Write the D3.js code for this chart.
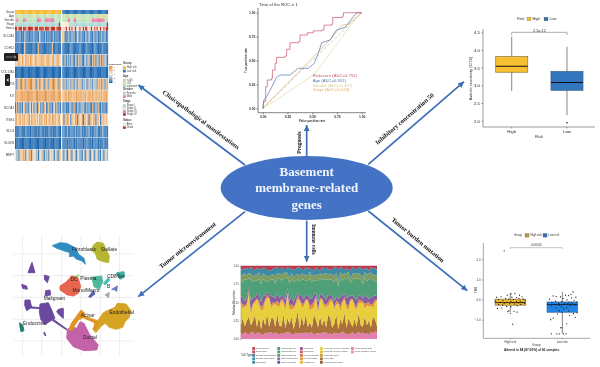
<!DOCTYPE html>
<html><head><meta charset="utf-8">
<script src="https://cdn.jsdelivr.net/npm/d3@7/dist/d3.min.js"></script>
<style>html,body{margin:0;padding:0;background:#fff}svg{display:block;font-family:"Liberation Sans",Arial,sans-serif}</style>
</head><body><svg id="c" width="600" height="367"></svg>
<script>
/* ---------- heatmap data (digit 0-9 = expression level), 40 High + 40 Low samples ---------- */
const heatGenes=["SLC2A1","CDH12","LAMC2","COL17A1","TP53","KIT","NCOA1","ITGB4","SDC4","NLGN3","MMP7"];
const heatRows=[
"2121312132121221312214212131212123121212"+"7612232132312421322132142213213122312312",
"1101110161011101110271101011101161011011"+"1101101211011102110112011101211011120111",
"6578658659674876587466787657786578467865"+"2161723162173162721361732162717326172631",
"0000100000000100000000010000000100000000"+"0100101010001010010001010010100010100100",
"7286827682687927682762867286827682876287"+"3262736273263263727362263726372636273263",
"8786878787988788778978878798787878877888"+"7687687876768787867686787687687676868786",
"1713171471317415173174131741271317417131"+"2131213312721321337213132172132721312213",
"7857857685769587685758785768578587685785"+"6176875176587176581675817658716751768575",
"1101221102112021101211210211021121102110"+"1211311212131211312112131211213112131121",
"0101010010111010101001010101001010110100"+"1112121112021211120212111202112021112021",
"5371646371563716453716537163715647153176"+"3153164316531642315316431653164231531643"
];
/* annotation tracks */
const trackNames=["Group","Age","Gender","Stage","Status"];
const trackAge=  "1111221111112111221111121111211111121111"+"1121111211112211112111121111121122111121";
const trackGen=  "1221111222111111111222211122222222111111"+"1111122111221111111111111122222222222111";
const trackStg=  "2222222222222222222222222222222222222242"+"3333332222222222222222222222222222222224";
const trackSta=  "1101110111011111011101111011110111101111"+"0001001010010001001011000100101001001011";
const expressionTicks=[4,2,0,-2,-4];
const legendAge=["<=65",">65","unknown"];
const legendGender=["Female","Male"];
const legendStage=["Stage I","Stage II","Stage III","Stage IV"];
const legendStatus=["Alive","Dead"];
const legendRisk=["High risk","Low risk"];

/* ---------- ROC curves ---------- */
const rocNames=["Riskscore (AUC=0.752)","Age (AUC=0.551)","Gender (AUC=0.427)","Stage (AUC=0.528)"];
const rocRisk=[[0,0],[.007,.07],[.03,.226],[.047,.296],[.09,.314],[.098,.40],[.125,.47],[.14,.533],[.226,.547],[.242,.617],[.276,.686],[.36,.697],[.377,.767],[.45,.79],[.51,.81],[.596,.82],[.62,.87],[.697,.88],[.707,.95],[.808,.965],[.815,1],[1,1]];
const rocAge=[[0,0],[.013,.087],[.04,.122],[.09,.22],[.14,.324],[.175,.348],[.276,.348],[.36,.418],[.46,.418],[.52,.47],[.562,.575],[.596,.686],[.68,.714],[.747,.82],[.832,.847],[.916,.958],[.95,1],[1,1]];
const rocGender=[[0,0],[.2,.13],[.36,.245],[.51,.348],[.6,.46],[.68,.575],[.77,.7],[.85,.82],[.93,.92],[1,1]];
const rocStage=[[0,0],[.2,.21],[.4,.42],[.58,.61],[.7,.74],[.8,.87],[.865,.88],[.93,.94],[1,1]];
const rocTicks=[0,.25,.5,.75,1];

/* ---------- Axitinib boxplot ---------- */
const icGroups=["High","Low"];
const icHigh={lo:2.84,q1:3.37,med:3.54,q3:3.82,hi:4.38,out:[]};
const icLow={lo:2.16,q1:2.86,med:3.08,q3:3.39,hi:4.09,out:[1.94]};
const icTicks=[2,2.5,3,3.5,4,4.5];

/* ---------- TMB boxplot ---------- */
const tmbGroups=["High risk","Low risk"];
const tmbHigh={lo:-.62,q1:-.28,med:-.15,q3:.02,hi:.34};
const tmbLow={lo:-1.7,q1:-.63,med:-.25,q3:-.12,hi:.38};
const tmbHighPts=[[-.2,2.42],[.15,.3],[.02,.28],[-.1,.22],[.3,.22],[.38,.14],[-.3,.14],[.05,.12],[.2,.1],[-.45,.12],[-.15,.06],[.28,.05],[.42,.02],[-.38,.0],[-.05,.02],[.1,0],[.48,-.04],[-.24,-.05],[.32,-.08],[.02,-.08],[-.48,-.08],[.2,-.1],[-.12,-.12],[.4,-.14],[-.32,-.14],[.08,-.15],[.26,-.17],[-.2,-.18],[.46,-.2],[-.02,-.2],[.14,-.22],[-.38,-.24],[.34,-.24],[-.25,-.28],[.22,-.3],[-.12,-.34],[.02,-.36],[-.42,-.44],[-.28,-.42],[-.05,-.55],[.22,-.62],[-.08,-.6],[.0,-.68],[.12,-.58],[.08,-1.22]];
const tmbLowPts=[[.35,.38],[.28,.25],[-.3,.18],[.1,.22],[.2,.2],[-.2,.15],[.44,.12],[-.06,.13],[.3,.08],[.02,.05],[-.42,.02],[.15,-.02],[.38,-.05],[-.22,-.08],[-.02,-.1],[.22,-.12],[.46,-.12],[-.34,-.14],[.08,-.16],[-.12,-.18],[.32,-.18],[.18,-.2],[-.48,-.22],[-.24,-.24],[.04,-.24],[.4,-.26],[-.1,-.28],[.26,-.3],[-.36,-.32],[-.04,-.35],[.14,-.4],[-.2,-.42],[.04,-.46],[-.1,-.55],[.2,-.58],[-.02,-.62],[.48,-.66],[.36,-.7],[-.16,-.72],[.24,-.78],[-.3,-.92],[.42,-.88],[-.38,-1],[.14,-1.2],[-.06,-1.4],[-.02,-1.4],[-.36,-1.7],[-.18,-1.7],[-.1,-1.7],[.04,-1.7],[.12,-1.7]];
const tmbTicks=[-1,0,1,2];

/* ---------- immune cell proportions (bottom band first) ---------- */
const cellPink=[8,7,9,8,6,9,10,7,8,9,7,6,8,9,8,10,7,9,8,6,8,7,9,10,8,7,6,9,8,7,9,8,10,7,8,9,6,8,7,9,8,10,9,7,8,6,9,8,7,8,10,9,7,6,8,9,7,8,10,8,9,7,8,6,9,8,10,9];
const cellBrown=[10,24,8,18,28,9,14,30,8,22,7,26,10,28,8,20,24,7,30,12,9,28,6,22,10,26,8,16,30,7,24,11,28,9,14,6,30,20,8,26,10,18,7,28,22,9,12,28,6,20,10,30,8,24,16,7,22,9,28,12,8,26,10,20,6,24,16,9];
const cellYellow=[30,14,26,20,34,12,24,18,36,16,28,10,32,22,38,14,20,30,12,26,34,16,24,36,18,10,30,22,16,38,12,28,20,34,14,26,10,32,18,24,36,16,30,12,22,38,20,14,34,10,28,18,26,12,32,36,16,24,14,30,34,10,26,20,28,12,22,36];
const cellOrange=[3,6,2,5,4,7,1,3,2,6,4,8,2,5,1,6,3,2,7,4,3,5,6,1,4,8,2,3,6,1,5,4,2,3,7,5,8,2,4,3,1,6,2,7,5,1,3,6,2,8,3,5,4,7,2,1,6,3,5,4,2,8,3,5,2,6,4,1];
const cellPurple=[6,11,5,9,4,13,8,6,5,10,7,14,6,4,5,12,9,6,11,8,5,4,10,7,6,13,5,9,4,5,11,7,6,5,9,8,12,4,10,6,5,9,7,11,4,5,8,6,4,13,7,5,9,12,6,5,8,10,7,6,4,12,8,5,9,10,6,5];
const cellGreen=[20,22,30,24,16,28,22,25,18,21,27,24,20,15,18,24,25,20,22,28,19,26,30,16,22,25,29,22,18,20,24,28,21,19,27,22,20,18,28,24,20,25,29,21,23,22,27,26,18,27,20,22,25,28,18,21,28,29,23,22,20,26,21,27,25,23,19,22];
const cellSage=[8,10,8,6,8,8,7,9,8,9,8,8,8,7,7,7,8,9,8,7,8,8,8,7,7,8,8,8,8,7,8,8,8,8,8,8,8,8,8,7,8,8,8,8,8,8,8,8,8,8,8,8,8,8,7,8,8,8,8,8,8,8,8,8,8,8,8,8];
const cellTeal=[9,8,7,10,6,8,11,7,9,5,12,8,9,10,7,6,8,12,9,5,10,7,4,9,12,6,10,8,9,11,7,5,13,8,5,9,6,11,7,4,10,6,8,9,5,7,12,8,14,6,9,5,7,4,11,9,7,5,8,10,12,5,9,4,7,8,10,6];
const cellRed=[4,6,3,4,5,2,4,7,3,4,6,3,3,6,6,7,4,3,2,5,2,4,5,2,3,4,6,5,2,3,4,7,2,4,3,5,7,3,4,8,2,5,3,4,6,5,2,3,5,2,3,6,3,5,7,2,4,5,3,2,6,4,3,7,2,4,3,6];
const cellTicks=[0,.25,.5,.75,1];
const cellLegend=[
 [["B cells memory","#c23b4b"],["B cells naive","#b5475f"],["Dendritic cells activated","#4a7fa8"],["Dendritic cells resting","#3b8fb0"],["Eosinophils","#3a8a98"]],
 [["Macrophages M0","#3f9a78"],["Macrophages M1","#4aa46c"],["Macrophages M2","#5aa060"],["Mast cells activated","#6f7f8f"],["Mast cells resting","#7c4f9c"]],
 [["Monocytes","#a0558f"],["Neutrophils","#c0606a"],["NK cells activated","#d4783c"],["NK cells resting","#e6913a"],["Plasma cells","#efb233"]],
 [["T cells CD4 memory activated","#e8d23e"],["T cells CD4 memory resting","#d8c030"],["T cells CD4 naive","#c4a030"],["T cells CD8","#a8703a"],["T cells follicular helper","#9a5c38"]],
 [["T cells gamma delta","#e87fae"],["T cells regulatory (Tregs)","#e58cb8"]]
];

/* ---------- single-cell map: cluster outlines in map units ---------- */
const umapFibro=[[127,47],[150,38],[170,40],[190,50],[200,58],[205,72],[222,85],[226,103],[215,92],[200,88],[190,78],[178,80],[180,68],[160,62],[150,58],[140,55]];
const umapStellate=[[250,45],[262,36],[280,40],[288,58],[298,78],[296,98],[280,95],[262,88],[256,70],[245,62]];
const umapMalig=[
 [[66,97],[75,128],[54,128],[60,112]],
 [[103,135],[118,140],[112,158],[104,150]],
 [[35,163],[50,168],[52,178],[38,175]],
 [[107,182],[120,180],[122,195],[105,198]],
 [[45,210],[60,210],[65,232],[50,242],[44,225]],
 [[90,222],[115,218],[125,240],[135,265],[118,275],[105,285],[92,268],[88,245]],
 [[145,238],[160,235],[160,265],[148,255],[140,245]],
 [[60,230],[90,233],[90,236],[60,234]],
 [[130,268],[172,298],[170,300],[128,272]],
 [[103,306],[108,316],[105,317],[101,308]]
];
const umapEndo=[[29,278],[38,285],[42,302],[33,305],[30,292]];
const umapDC=[[160,165],[180,145],[208,134],[195,150],[172,168]];
const umapMono=[[150,168],[170,155],[185,137],[205,145],[212,170],[205,190],[190,198],[172,195],[150,180]];
const umapPlasma=[[245,142],[275,138],[278,155],[268,178],[252,170]];
const umapCD8a=[[280,160],[295,143],[300,150],[285,165]];
const umapCD8b=[[320,128],[342,125],[344,140],[330,148],[322,138]];
const umapB1=[[236,200],[250,182],[255,192],[240,203]];
const umapB2=[[305,178],[322,168],[320,185],[316,180]];
const umapB3=[[285,195],[298,187],[296,203]];
const umapAcinar=[[213,240],[225,250],[222,262],[205,270],[195,285],[188,300],[176,300],[185,278],[200,258]];
const umapAcinarLink=[[222,258],[262,272],[256,300],[252,298],[254,278],[222,264]];
const umapEndoth=[[322,220],[348,222],[362,240],[358,262],[345,275],[338,292],[318,298],[298,292],[285,280],[272,290],[258,308],[248,298],[270,262],[280,248],[296,240],[315,232]];
const umapDuctal=[[172,298],[186,290],[200,295],[210,275],[222,280],[238,312],[252,330],[265,345],[260,360],[222,362],[190,350],[170,325]];
const umapGridX=[38,95,155,213,271,329], umapGridY=[72,137,202,268,333];
const umapLabels=[["Fibroblasts",222,60],["Stellate",297,60],["DC",192,149],["Plasma",235,146],["CD8Tex",317,141],["Mono/Macro",228,183],["B",296,171],["Malignant",133,207],["Endocrine",72,280],["Acinar",233,256],["Endothelial",335,249],["Ductal",240,322]];

/* ---------- central diagram text ---------- */
const centerLines=["Basement","membrane-related","genes"];

const svg=d3.select("#c");
const SERIF='"Liberation Serif","Times New Roman",serif';
const arrowBlue="#3d6eb8";
const defs=svg.append("defs");
defs.append("filter").attr("id","soft").attr("x","-5%").attr("y","-5%").attr("width","110%").attr("height","110%").append("feGaussianBlur").attr("stdDeviation",.3);

/* ===== heatmap ===== */
(function(){
 const g=svg.append("g").attr("filter","url(#soft)");
 const n=heatRows[0].length/2;
 const xHi=d3.scaleBand().domain(d3.range(n)).range([15,61]);
 const xLo=d3.scaleBand().domain(d3.range(n,2*n)).range([62.3,108]);
 const xOf=i=>i<n?xHi(i):xLo(i), wOf=i=>(i<n?xHi:xLo).bandwidth()+.15;
 const color=d3.scaleLinear().domain([0,1.5,4.5,6,9]).range(["#1f69b1","#4a86bf","#f4ede2","#f2c89a","#e58f3c"]);
 const yT=d3.scaleBand().domain(trackNames).range([10,30.7]).paddingInner(.04);
 const yH=d3.scaleBand().domain(heatGenes).range([31,161]).paddingInner(.04);
 const palAge={1:"#bfe0bc",2:"#f0e484"};
 const palGen={1:"#bfe0b8",2:"#e982ac"};
 const palStg={2:"#a9dcd6",3:"#fbeecb",4:"#b8283c"};
 const palSta={0:"#f4d6cc",1:"#bf3328"};
 const trk={Age:[trackAge,palAge],Gender:[trackGen,palGen],Stage:[trackStg,palStg],Status:[trackSta,palSta]};
 d3.range(2*n).forEach(i=>{
   g.append("rect").attr("x",xOf(i)).attr("y",yT("Group")).attr("width",wOf(i)).attr("height",yT.bandwidth()).attr("fill",i<n?"#f4bb32":"#2c72b5");
   Object.keys(trk).forEach(k=>{
     g.append("rect").attr("x",xOf(i)).attr("y",yT(k)).attr("width",wOf(i)).attr("height",yT.bandwidth()).attr("fill",trk[k][1][trk[k][0][i]]);
   });
   heatRows.forEach((r,ri)=>{
     g.append("rect").attr("x",xOf(i)).attr("y",yH(heatGenes[ri])).attr("width",wOf(i)).attr("height",yH.bandwidth()).attr("fill",color(+r[i]));
   });
 });
 const lab=(t,x,y,o={})=>g.append("text").attr("x",x).attr("y",y).attr("font-size",o.s||3).attr("fill",o.c||"#444").attr("font-weight",o.b?"bold":null).attr("text-anchor",o.a||"start").attr("dominant-baseline","middle").text(t);
 trackNames.forEach(t=>lab(t,14.3,yT(t)+yT.bandwidth()/2,{a:"end"}));
 heatGenes.forEach(t=>lab(t,14.3,yH(t)+yH.bandwidth()/2,{a:"end"}));
 // viewer widgets present in the reference
 g.append("rect").attr("x",4).attr("y",53).attr("width",14).attr("height",8).attr("rx",1).attr("fill","#222");
 g.append("rect").attr("x",5).attr("y",74).attr("width",5).attr("height",12).attr("rx",1).attr("fill","#222");
 g.append("path").attr("d","M6 57H16M14 55.5L16 57L14 58.5").attr("stroke","#ccc").attr("stroke-width",.5).attr("fill","none");
 g.append("path").attr("d","M8.5 78L6.5 80L8.5 82Z").attr("fill","#eee");
 // legends
 const lg=defs.append("linearGradient").attr("id","exprGrad").attr("x1",0).attr("x2",0).attr("y1",0).attr("y2",1);
 [[0,"#e58f3c"],[.5,"#f4ede2"],[1,"#1f69b1"]].forEach(s=>lg.append("stop").attr("offset",s[0]).attr("stop-color",s[1]));
 g.append("rect").attr("x",109).attr("y",66).attr("width",3.5).attr("height",17).attr("fill","url(#exprGrad)");
 lab("Expression",109,64,{b:1,s:2.3});
 const eY=d3.scaleLinear().domain([4,-4]).range([67,82]);
 expressionTicks.forEach(t=>lab(t,113.2,eY(t),{s:2.4}));
 const block=(title,y,names,cols)=>{
   lab(title,123,y,{b:1,s:2.8});
   names.forEach((n,i)=>{const yy=y+3+i*2.9*(names.length>2?1:1.15);
     g.append("rect").attr("x",123).attr("y",yy).attr("width",2.8).attr("height",2.6).attr("fill",cols[i]).attr("stroke","#999").attr("stroke-width",.2);
     lab(n,126.7,yy+1.3,{s:2.6});});
 };
 block("Group",63.5,legendRisk,["#f4bb32","#2c72b5"]);
 block("Age",76,legendAge,["#bfe0bc","#f0e484","#a9dcd6"]);
 block("Gender",89,legendGender,["#bfe0b8","#e982ac"]);
 block("Stage",101.5,legendStage,["#a9dcd6","#fbeecb","#e982ac","#b8283c"]);
 block("Status",120,legendStatus,["#f8f2ea","#bf3328"]);
})();

/* ===== ROC ===== */
(function(){
 const g=svg.append("g").attr("filter","url(#soft)");
 const x=d3.scaleLinear().domain([0,1]).range([262.7,361.7]);
 const y=d3.scaleLinear().domain([0,1]).range([108.3,12.7]);
 const axB=g.append("g").attr("transform","translate(0,112.7)").call(d3.axisBottom(x).tickValues(rocTicks).tickFormat(d3.format(".2f")).tickSize(1.5).tickPadding(1));
 const axL=g.append("g").attr("transform","translate(258,0)").call(d3.axisLeft(y).tickValues(rocTicks).tickFormat(d3.format(".2f")).tickSize(1.5).tickPadding(1));
 [axB,axL].forEach(a=>{a.selectAll("text").attr("font-size",3.4).attr("font-weight","bold").attr("fill","#333");a.selectAll("line,path").attr("stroke","#333").attr("stroke-width",.6);});
 axB.select("path").attr("d","M258,0H366");axL.select("path").attr("d","M0,8V112.7");
 g.append("line").attr("x1",x(0)).attr("y1",y(0)).attr("x2",x(1)).attr("y2",y(1)).attr("stroke","#aaa").attr("stroke-width",.6).attr("stroke-dasharray","3,2");
 const step=d3.line().x(d=>x(d[0])).y(d=>y(d[1])).curve(d3.curveStepAfter);
 const lin=d3.line().x(d=>x(d[0])).y(d=>y(d[1]));
 const cols=["#c8536a","#4f74ad","#dedca8","#e9b26a"];
 g.append("path").attr("d",lin(rocGender)).attr("fill","none").attr("stroke",cols[2]).attr("stroke-width",.7);
 g.append("path").attr("d",lin(rocStage)).attr("fill","none").attr("stroke",cols[3]).attr("stroke-width",.7);
 g.append("path").attr("d",lin(rocAge)).attr("fill","none").attr("stroke",cols[1]).attr("stroke-width",.7);
 g.append("path").attr("d",step(rocRisk)).attr("fill","none").attr("stroke",cols[0]).attr("stroke-width",.7);
 rocNames.forEach((t,i)=>g.append("text").attr("x",312.7).attr("y",77+i*4.8).attr("font-size",4.2).attr("fill",cols[i]==="#dedca8"?"#cfcd92":cols[i]).text(t));
 g.append("text").attr("x",259).attr("y",6).attr("font-size",4.2).attr("fill","#333").text("Time of the ROC is  1");
 g.append("text").attr("x",312).attr("y",121.5).attr("font-size",3).attr("text-anchor","middle").attr("font-weight","bold").attr("fill","#333").text("False positive rate");
 g.append("text").attr("transform","translate(247,60.5) rotate(-90)").attr("font-size",3).attr("text-anchor","middle").attr("font-weight","bold").attr("fill","#333").text("True positive rate");
})();

/* ===== shared boxplot ===== */
function box(g,x,y,s,cat,fill,stroke,medW){
 const x0=x(cat),w=x.bandwidth(),c=x0+w/2;
 g.append("line").attr("x1",c).attr("x2",c).attr("y1",y(s.lo)).attr("y2",y(s.hi)).attr("stroke","#777").attr("stroke-width",.9);
 g.append("rect").attr("x",x0).attr("width",w).attr("y",y(s.q3)).attr("height",y(s.q1)-y(s.q3)).attr("fill",fill).attr("stroke",stroke).attr("stroke-width",.7);
 g.append("line").attr("x1",x0).attr("x2",x0+w).attr("y1",y(s.med)).attr("y2",y(s.med)).attr("stroke","#111").attr("stroke-width",medW);
}
function legendTop(g,lx,ly,title,names,cols,step,fs){
 g.append("text").attr("x",lx).attr("y",ly).attr("font-size",fs).attr("dominant-baseline","middle").attr("fill","#333").text(title);
 names.forEach((n,i)=>{const xx=lx+step[0]+i*step[1];
  g.append("rect").attr("x",xx).attr("y",ly-1.8).attr("width",4).attr("height",3.6).attr("fill",cols[i]).attr("stroke","#666").attr("stroke-width",.3);
  g.append("text").attr("x",xx+5.5).attr("y",ly).attr("font-size",fs).attr("dominant-baseline","middle").attr("fill","#333").text(n);});
}

/* ===== IC50 box ===== */
(function(){
 const g=svg.append("g").attr("filter","url(#soft)");
 const y=d3.scaleLinear().domain([2,4.5]).range([120.7,32.3]);
 const x=d3.scaleBand().domain(icGroups).range([495.7,583]).paddingInner(.42);
 const axL=g.append("g").attr("transform","translate(483,0)").call(d3.axisLeft(y).tickValues(icTicks).tickFormat(d3.format(".1f")).tickSize(1.5).tickPadding(1.5));
 const axB=g.append("g").attr("transform","translate(0,127)").call(d3.axisBottom(x).tickSize(1.5).tickPadding(1.5));
 [axL,axB].forEach(a=>{a.selectAll("text").attr("font-size",4.3).attr("fill","#222");a.selectAll("line,path").attr("stroke","#555").attr("stroke-width",.6);});
 axL.select("path").attr("d","M0,29V127");axB.select("path").attr("d","M483,0H595");
 box(g,x,y,icHigh,"High","#f7bf33","#8b7a45",1);
 box(g,x,y,icLow,"Low","#3377bd","#3c5e80",1);
 g.selectAll(".o").data(icLow.out).enter().append("circle").attr("cx",x("Low")+x.bandwidth()/2).attr("cy",d=>y(d)).attr("r",.8).attr("fill","#111");
 const cx=c=>x(c)+x.bandwidth()/2;
 g.append("path").attr("d",`M${cx("High")} 35V32.3H${cx("Low")}V35`).attr("fill","none").attr("stroke","#777").attr("stroke-width",.6);
 g.append("text").attr("x",(cx("High")+cx("Low"))/2).attr("y",31.5).attr("font-size",3.8).attr("text-anchor","middle").attr("fill","#333").text("2.1e-12");
 g.append("text").attr("x",539).attr("y",138).attr("font-size",4.2).attr("text-anchor","middle").attr("fill","#333").text("Risk");
 g.append("text").attr("transform","translate(472,78.5) rotate(-90)").attr("font-size",4).attr("text-anchor","middle").attr("fill","#333").text("Axitinib sensitivity (IC50)");
 legendTop(g,517,19,"Risk",["High","Low"],["#f7bf33","#2f6fb0"],[10,17],3.8);
})();

/* ===== TMB box ===== */
(function(){
 const g=svg.append("g").attr("filter","url(#soft)");
 const y=d3.scaleLinear().domain([-1,2]).range([319.7,259.3]);
 const x=d3.scaleBand().domain(tmbGroups).range([495,577.7]).paddingInner(.41);
 const axL=g.append("g").attr("transform","translate(483.3,0)").call(d3.axisLeft(y).tickValues(tmbTicks).tickSize(1.2).tickPadding(1.5));
 const axB=g.append("g").attr("transform","translate(0,338.3)").call(d3.axisBottom(x).tickSize(1.2).tickPadding(1.2));
 [axL,axB].forEach(a=>{a.selectAll("text").attr("font-size",3).attr("fill","#333");a.selectAll("line,path").attr("stroke","#666").attr("stroke-width",.6);});
 axL.select("path").attr("d","M0,243V338.3");axB.select("path").attr("d","M483.3,0H590");
 box(g,x,y,tmbHigh,"High risk","#f3b92f","#8b7a45",.8);
 box(g,x,y,tmbLow,"Low risk","#2184e4","#3c6ea0",.8);
 const pts=(arr,c)=>g.selectAll(null).data(arr).enter().append("circle").attr("cx",d=>x(c)+x.bandwidth()/2+d[0]*x.bandwidth()).attr("cy",d=>y(d[1])).attr("r",.6).attr("fill","#111");
 pts(tmbHighPts,"High risk");pts(tmbLowPts,"Low risk");
 const cx=c=>x(c)+x.bandwidth()/2;
 g.append("path").attr("d",`M${cx("High risk")} 249V247.7H${cx("Low risk")}V249`).attr("fill","none").attr("stroke","#888").attr("stroke-width",.5);
 g.append("text").attr("x",(cx("High risk")+cx("Low risk"))/2).attr("y",246.2).attr("font-size",3).attr("text-anchor","middle").attr("fill","#333").text("0.00012");
 g.append("text").attr("x",536.5).attr("y",346).attr("font-size",3).attr("text-anchor","middle").attr("fill","#333").text("Group");
 g.append("text").attr("transform","translate(477,290) rotate(-90)").attr("font-size",3).attr("text-anchor","middle").attr("fill","#333").text("TMB");
 g.append("text").attr("x",532).attr("y",350.8).attr("font-size",3.2).attr("font-weight","bold").attr("text-anchor","middle").attr("fill","#222").text("Altered in 84 (87.50%) of 96 samples.");
 legendTop(g,514,235.3,"Group",["High risk","Low risk"],["#b99a40","#2f6fb0"],[11,18],2.9);
})();

/* ===== stacked immune chart ===== */
(function(){
 const g=svg.append("g").attr("filter","url(#soft)");
 const bands=[cellPink,cellBrown,cellYellow,cellOrange,cellPurple,cellGreen,cellSage,cellTeal,cellRed];
 const cols=["#e27fae","#a96f3a","#e6cf3a","#e3903c","#8b5a9e","#4fa078","#7f9c62","#3c8aa6","#b83a4c"];
 const n=d3.min(bands,b=>b.length);
 const rows=d3.range(n).map(i=>Object.fromEntries(bands.map((b,k)=>[k,b[i]])));
 const stack=d3.stack().keys(bands.map((_,k)=>k)).offset(d3.stackOffsetExpand)(rows);
 const x=d3.scaleLinear().domain([0,n-1]).range([240.7,377]);
 const y=d3.scaleLinear().domain([0,1]).range([339,265.7]);
 const area=d3.area().x((d,i)=>x(i)).y0(d=>y(d[0])).y1(d=>y(d[1]));
 g.selectAll(null).data(stack).enter().append("path").attr("d",area).attr("fill",(d,i)=>cols[i]);
 const axL=g.append("g").attr("transform","translate(240.7,0)").call(d3.axisLeft(y).tickValues(cellTicks).tickFormat(d3.format(".2f")).tickSize(1).tickPadding(1));
 axL.selectAll("text").attr("font-size",2.6).attr("fill","#444");axL.selectAll("line,path").attr("stroke","#888").attr("stroke-width",.4);
 g.append("text").attr("transform","translate(234.5,302.5) rotate(-90)").attr("font-size",3).attr("text-anchor","middle").attr("fill","#333").text("Relative Proportion");
 g.append("text").attr("x",241).attr("y",355.5).attr("font-size",2.8).attr("fill","#333").attr("dominant-baseline","middle").text("Cell Type");
 const colX=[252.3,277.3,300,320,351];
 cellLegend.forEach((col,ci)=>col.forEach((e,ri)=>{
   const yy=348.5+ri*3.45;
   g.append("rect").attr("x",colX[ci]).attr("y",yy-1.4).attr("width",2.8).attr("height",2.8).attr("fill",e[1]);
   g.append("text").attr("x",colX[ci]+3.6).attr("y",yy).attr("font-size",1.95).attr("fill","#444").attr("dominant-baseline","middle").text(e[0]);
 }));
})();

/* ===== UMAP ===== */
(function(){
 const g=svg.append("g").attr("filter","url(#soft)");
 const x=d3.scaleLinear().domain([0,450]).range([10,160]);
 const y=d3.scaleLinear().domain([0,390]).range([230,360]);
 umapGridX.forEach(v=>g.append("line").attr("x1",x(v)).attr("x2",x(v)).attr("y1",y(15)).attr("y2",y(378)).attr("stroke","#e6e6e6").attr("stroke-width",.7));
 umapGridY.forEach(v=>g.append("line").attr("y1",y(v)).attr("y2",y(v)).attr("x1",x(10)).attr("x2",x(372)).attr("stroke","#e6e6e6").attr("stroke-width",.7));
 const outline=d3.line().x(d=>x(d[0])).y(d=>y(d[1])).curve(d3.curveLinearClosed);
 const draw=(arr,c)=>g.append("path").attr("d",outline(arr)).attr("fill",c).attr("stroke",c).attr("stroke-width",.9).attr("stroke-linejoin","round");
 draw(umapFibro,"#2f8cc0");draw(umapStellate,"#b4b632");umapMalig.forEach(p=>draw(p,"#6b4a9e"));draw(umapEndo,"#1f7d70");
 draw(umapDC,"#92d068");draw(umapMono,"#e8654f");draw(umapPlasma,"#4eb89a");draw(umapCD8a,"#47bfb8");draw(umapCD8b,"#3fae9c");
 draw(umapB1,"#5560b4");draw(umapB2,"#6a76c4");draw(umapB3,"#a9a9a0");
 draw(umapEndoth,"#d6a324");draw(umapAcinarLink,"#dd9422");draw(umapDuctal,"#c462a8");draw(umapAcinar,"#dd9422");
 umapLabels.forEach(l=>g.append("text").attr("x",x(l[1])).attr("y",y(l[2])).attr("font-size",4.9).attr("text-anchor","middle").attr("dominant-baseline","middle").attr("fill","#222").text(l[0]));
})();

/* ===== central diagram ===== */
(function(){
 const g=svg.append("g");
 defs.append("marker").attr("id","ah").attr("markerUnits","userSpaceOnUse").attr("markerWidth",7).attr("markerHeight",7).attr("refX",6).attr("refY",3).attr("orient","auto")
  .append("path").attr("d","M0,0L6,3L0,6Z").attr("fill",arrowBlue);
 const arrows=[[245,165,138.3,85],[306.7,156,306.7,125],[368.3,164.3,464,81.7],[368.3,211,467.3,290.7],[306.7,220.7,306.7,261.7],[245,211.7,138.3,296.7]];
 arrows.forEach(a=>g.append("line").attr("x1",a[0]).attr("y1",a[1]).attr("x2",a[2]).attr("y2",a[3]).attr("stroke",arrowBlue).attr("stroke-width",1.7).attr("marker-end","url(#ah)"));
 g.append("ellipse").attr("cx",306.7).attr("cy",188).attr("rx",86).attr("ry",32).attr("fill","#4472c4");
 const ys=[172.7,189,205.7];
 centerLines.forEach((t,i)=>g.append("text").attr("x",306.7).attr("y",ys[i]).attr("font-size",13).attr("font-weight","bold").style("font-family",SERIF).attr("text-anchor","middle").attr("dominant-baseline","middle").attr("fill","#f2f5fb").text(t));
 const tags=[["Clinicopathological manifestations",200.7,120.3,36.8,6.4],["Prognosis",299.3,142.5,-90,5.4],["Inhibitory concentration 50",405,119.3,-40.8,6.4],["Tumor burden mutation",417.5,240.5,39.7,6.4],["Immune cells",313.3,239.3,90,5.4],["Tumor microenvironment",188,245.7,-38.5,6.4]];
 tags.forEach(t=>g.append("text").attr("transform",`translate(${t[1]},${t[2]}) rotate(${t[3]})`).attr("font-size",t[4]).attr("font-weight","bold").style("font-family",SERIF).attr("text-anchor","middle").attr("dominant-baseline","middle").attr("fill","#111").text(t[0]));
})();
</script></body></html>
